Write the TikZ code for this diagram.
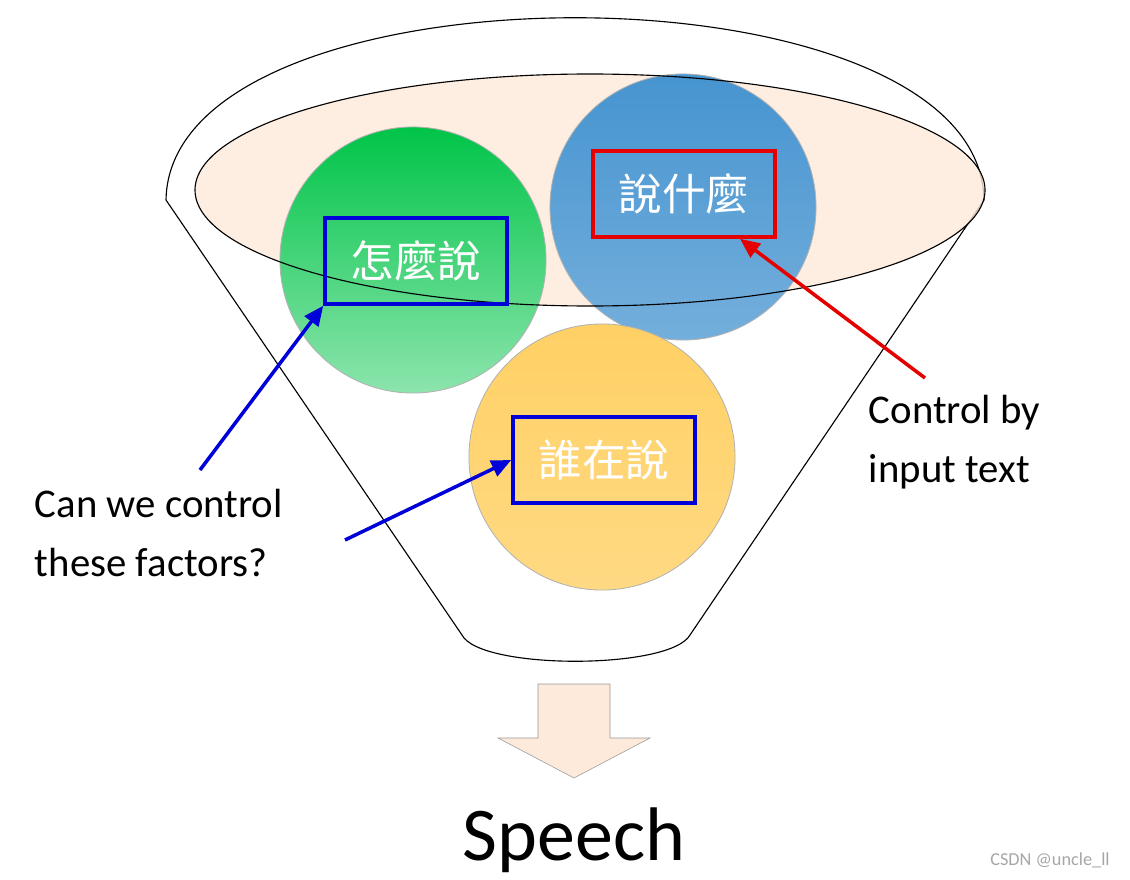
\documentclass[tikz,border=0pt]{standalone}
\usepackage{fontspec}
\setmainfont{Carlito}
\newfontfamily\cjk{Noto Sans CJK TC}
\usetikzlibrary{arrows.meta, positioning}

\definecolor{peach}{RGB}{253,234,218}
\definecolor{ballgreen}{RGB}{0,196,72}
\definecolor{ballblue}{RGB}{70,148,208}
\definecolor{ballyellow}{RGB}{255,208,100}

\begin{document}
\begin{tikzpicture}[x=0.025cm, y=-0.025cm,
  ball/.style={circle, draw=gray!60, line width=0.6pt, minimum size=6.65cm, inner sep=0pt},
  factor/.style={draw, line width=2.5pt, minimum width=4.55cm, minimum height=2.15cm,
    text=white, font=\cjk\fontsize{31}{36}\selectfont},
  pointer/.style={line width=2.5pt, -{Triangle[length=14pt, width=12pt]}},
  label/.style={align=left, anchor=north west, font=\fontsize{29}{42}\selectfont}
]
\useasboundingbox (0,0) rectangle (1130,880);

% funnel
\draw[line width=0.8pt, fill=white] (166,200) .. controls (170,-43) and (980,-43) .. (984,200)
  -- (690,635) .. controls (670,670) and (480,670) .. (462,635) -- cycle;
\fill[peach, opacity=0.8] (590,190) ellipse [x radius=395, y radius=116];

% balls
\node[ball, top color=ballgreen, bottom color=ballgreen!45] (green) at (413,260) {};
\node[ball, top color=ballblue, bottom color=ballblue!75] (blue) at (683,207) {};
\node[ball, top color=ballyellow, bottom color=ballyellow!80] (yellow) at (602,457) {};
\draw[line width=0.8pt] (590,190) ellipse [x radius=395, y radius=116];

% factor boxes
\node[factor, draw=blue!85!black] (how) at (416,261) {怎麼說};
\node[factor, draw=red!90!black] (what) at (684,194) {說什麼};
\node[factor, draw=blue!85!black] (who) at (604,460) {誰在說};

% labels
\node[label] (ask) at (30,484) {Can we control\\these factors?};
\node[label] (ctrl) at (864,390) {Control by\\input text};
\coordinate (askA) at (200,470);
\coordinate (askB) at (345,540);
\coordinate (ctrlA) at (925,378);

\draw[pointer, blue!85!black] (askA) -- (how.south west);
\draw[pointer, blue!85!black] (askB) -- (who.west);
\draw[pointer, red!90!black] (ctrlA) -- ([xshift=1.4cm]what.south);

% output
\draw[gray!80, fill=peach] (538,684) -- (610,684) -- (610,738) -- (650,738)
  -- (574,778) -- (498,738) -- (538,738) -- cycle;
\node[font=\fontsize{54}{58}\selectfont] (speech) at (574,840) {Speech};
\node[text=gray!70, font=\fontsize{13}{14}\selectfont] (mark) at (1050,860) {CSDN @uncle\_ll};
\end{tikzpicture}
\end{document}
